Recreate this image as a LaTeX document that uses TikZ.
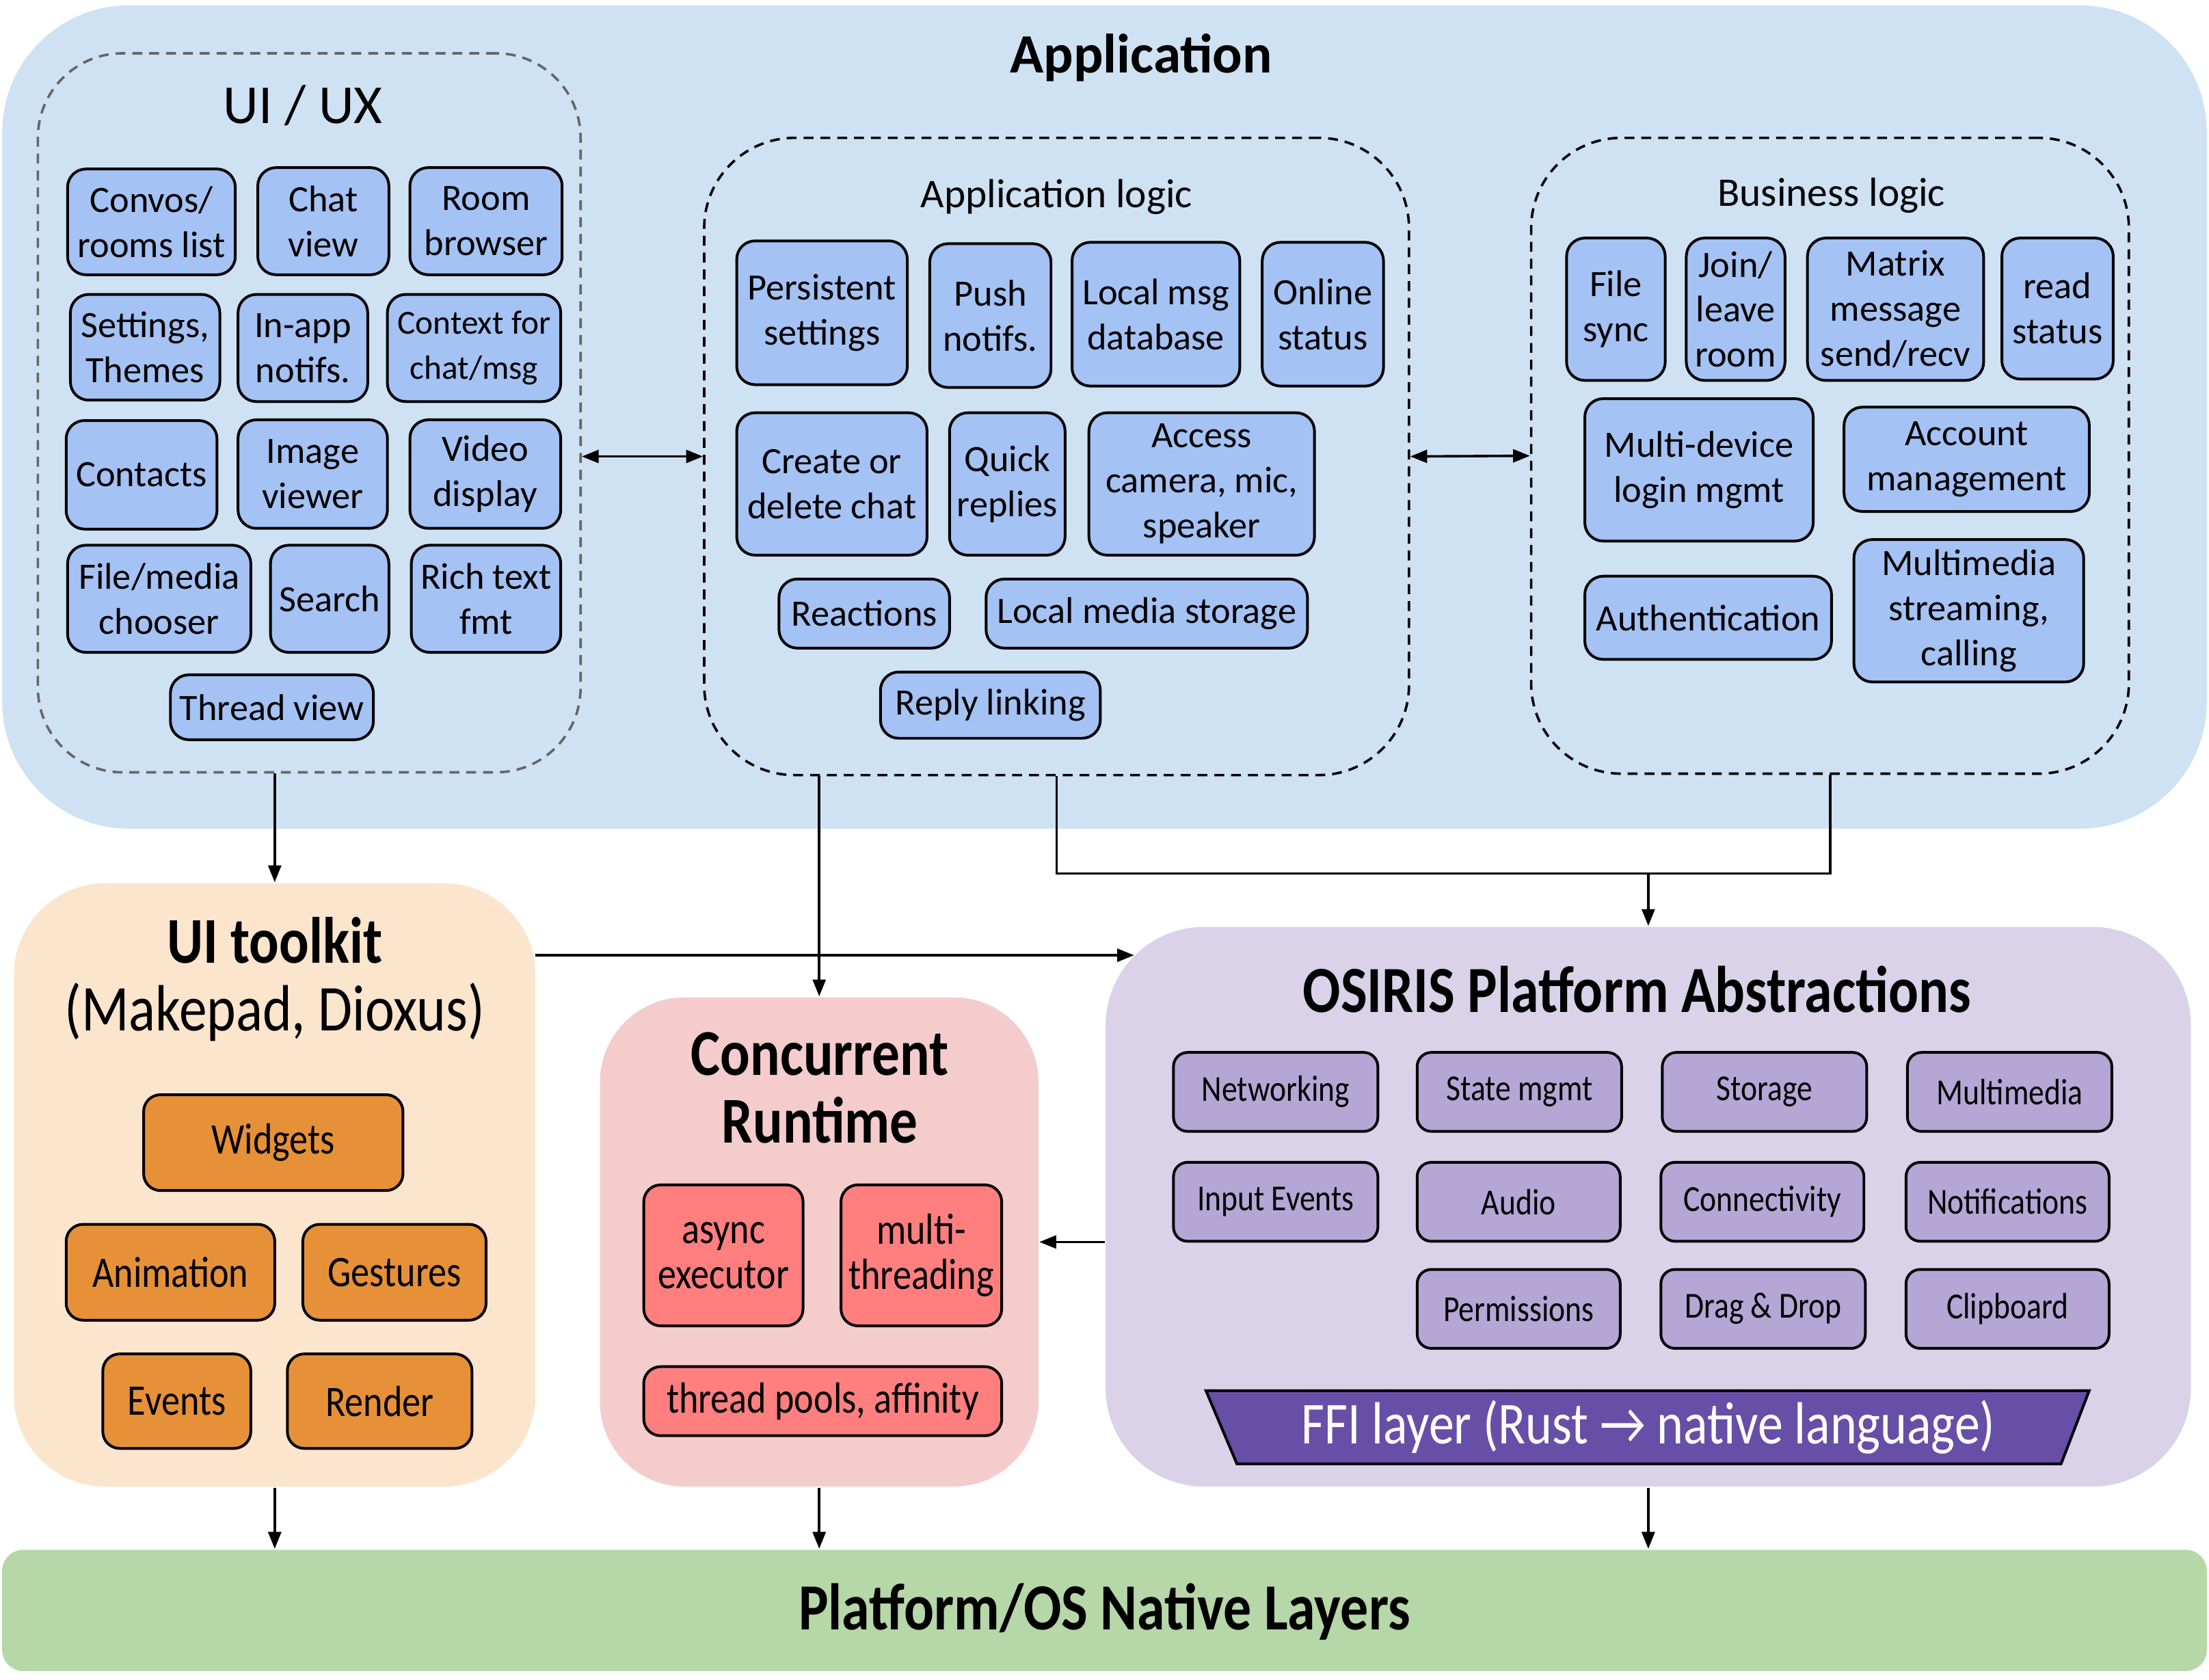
\documentclass[tikz,border=0pt]{standalone}
\usepackage{fontspec}
\setmainfont{Carlito}
\newfontfamily\narrowfont{Carlito}[FakeStretch=0.85]
\usepackage{xcolor}
\usetikzlibrary{arrows.meta}
\usetikzlibrary{calc}

\definecolor{appbg}{HTML}{CFE2F3}
\definecolor{appbox}{HTML}{A4C2F4}
\definecolor{kitbg}{HTML}{FCE5CD}
\definecolor{kitbox}{HTML}{E69138}
\definecolor{rtbg}{HTML}{F4CCCC}
\definecolor{rtbox}{HTML}{FF7F7F}
\definecolor{osbg}{HTML}{D9D2E9}
\definecolor{osbox}{HTML}{B4A7D6}
\definecolor{ffifill}{HTML}{674EA7}
\definecolor{nativebg}{HTML}{B6D7A8}
\definecolor{dashgray}{HTML}{666666}

\tikzset{
    sz/.style 2 args={minimum width=#1cm, minimum height=#2cm},
    layer/.style={draw=none, inner sep=0pt},
    group/.style={draw=black, dash pattern=on 2pt off 1.4pt, line width=0.5pt, inner sep=0pt, rounded corners=0.64cm},
    appitem/.style={draw=black, line width=0.55pt, fill=appbox, rounded corners=0.13cm, align=center, inner sep=0pt, font=\fontsize{7.5}{9.1}\selectfont},
    kititem/.style={draw=black, line width=0.55pt, fill=kitbox, rounded corners=0.12cm, align=center, inner sep=0pt, font=\narrowfont\fontsize{8.8}{9.1}\selectfont},
    rtitem/.style={kititem, fill=rtbox},
    ositem/.style={kititem, fill=osbox, rounded corners=0.1cm, font=\narrowfont\fontsize{7.4}{9}\selectfont},
    bigtitle/.style={font=\narrowfont\fontsize{13.2}{13.7}\selectfont, align=center, inner sep=0pt},
    conn/.style={line width=0.5pt},
    arr/.style={conn, -{Triangle[length=3.4pt,width=2.6pt]}},
    twoarr/.style={conn, {Triangle[length=3.4pt,width=2.6pt]}-{Triangle[length=3.4pt,width=2.6pt]}},
}

\begin{document}
\begin{tikzpicture}[x=0.01cm, y=-0.01cm]
        \useasboundingbox (0,0) rectangle (1568,1192);
        \node[layer, fill=appbg, rounded corners=0.9cm, sz={15.64}{5.84}] (app) at (784,296) {};
        \node[inner sep=0pt, font=\bfseries\fontsize{11.2}{13}\selectfont] (apptitle) at (810,41) {Application};

        \node[group, draw=dashgray, rounded corners=0.6cm, sz={3.85}{5.10}] (uiux) at (219.5,293) {};
        \node[inner sep=0pt, font=\fontsize{11.1}{13}\selectfont] (uiuxtitle) at (215,75) {UI / UX};
        \node[appitem, sz={1.19}{0.75}] (convos) at (107.5,157.5) {Convos/\\rooms list};
        \node[appitem, sz={0.93}{0.76}] (chatview) at (229.5,157) {Chat\\view};
        \node[appitem, sz={1.08}{0.76}] (roombrowser) at (345,157) {Room\\browser};
        \node[appitem, sz={1.06}{0.75}] (settings) at (103,246.5) {Settings,\\Themes};
        \node[appitem, sz={0.92}{0.76}] (inapp) at (215,247) {In-app\\notifs.};
        \node[appitem, sz={1.23}{0.76}, font=\fontsize{6.8}{9.1}\selectfont] (context) at (336.5,247) {Context for\\chat/msg};
        \node[appitem, sz={1.07}{0.77}] (contacts) at (100.5,337) {Contacts};
        \node[appitem, sz={1.06}{0.77}] (imageviewer) at (222,336.5) {Image\\viewer};
        \node[appitem, sz={1.07}{0.77}] (videodisplay) at (344.5,336.5) {Video\\display};
        \node[appitem, sz={1.30}{0.76}] (filemedia) at (113,425) {File/media\\chooser};
        \node[appitem, sz={0.84}{0.76}] (search) at (234,425) {Search};
        \node[appitem, sz={1.06}{0.76}] (richtext) at (345,425) {Rich text\\fmt};
        \node[appitem, sz={1.44}{0.46}] (threadview) at (193,502) {Thread view};

        \node[group, sz={5.00}{4.52}] (applogic) at (750,324) {};
        \node[inner sep=0pt, font=\fontsize{8.2}{10}\selectfont] (applogictitle) at (750,140) {Application logic};
        \node[appitem, sz={1.21}{1.02}] (persistent) at (583.5,222) {Persistent\\settings};
        \node[appitem, sz={0.86}{1.02}] (push) at (703,224) {Push\\notifs.};
        \node[appitem, sz={1.19}{1.02}] (localmsg) at (820.5,223) {Local msg\\database};
        \node[appitem, sz={0.86}{1.02}] (online) at (939,223) {Online\\status};
        \node[appitem, sz={1.35}{1.01}] (createchat) at (590.5,343.5) {Create or\\delete chat};
        \node[appitem, sz={0.82}{1.01}] (quick) at (715,343.5) {Quick\\replies};
        \node[appitem, sz={1.60}{1.01}] (access) at (853,343.5) {Access\\camera, mic,\\speaker};
        \node[appitem, sz={1.21}{0.49}] (reactions) at (613.5,435.5) {Reactions};
        \node[appitem, sz={2.28}{0.49}] (localmedia) at (814,435.5) {Local media storage};
        \node[appitem, sz={1.56}{0.47}] (replylink) at (703,500.5) {Reply linking};

        \node[group, sz={4.24}{4.51}] (bizlogic) at (1299,323.5) {};
        \node[inner sep=0pt, font=\fontsize{8.2}{10}\selectfont] (bizlogictitle) at (1300,139) {Business logic};
        \node[appitem, sz={0.70}{1.01}] (filesync) at (1147,219.5) {File\\sync};
        \node[appitem, sz={0.70}{1.01}] (joinleave) at (1232,219.5) {Join/\\leave\\room};
        \node[appitem, sz={1.25}{1.01}] (matrixmsg) at (1345.5,219.5) {Matrix\\message\\send/recv};
        \node[appitem, sz={0.79}{1.00}] (readstatus) at (1460.5,219) {read\\status};
        \node[appitem, sz={1.62}{1.01}] (multidevice) at (1206,333.5) {Multi-device\\login mgmt};
        \node[appitem, sz={1.74}{0.74}] (account) at (1396,326) {Account\\management};
        \node[appitem, sz={1.75}{0.59}] (auth) at (1212.5,438.5) {Authentication};
        \node[appitem, sz={1.63}{1.01}] (streaming) at (1397.5,433.5) {Multimedia\\streaming,\\calling};

        \node[layer, fill=kitbg, rounded corners=0.65cm, sz={3.70}{4.28}] (toolkit) at (195,841) {};
        \node[bigtitle] (toolkittitle) at (195,695) {\bfseries UI toolkit\\(Makepad, Dioxus)};
        \node[kititem, sz={1.84}{0.68}] (widgets) at (194,811) {Widgets};
        \node[kititem, sz={1.48}{0.68}] (animation) at (121,903) {Animation};
        \node[kititem, sz={1.30}{0.68}] (gestures) at (280,903) {Gestures};
        \node[kititem, sz={1.05}{0.67}] (events) at (125.5,994.5) {Events};
        \node[kititem, sz={1.31}{0.67}] (render) at (269.5,994.5) {Render};

        \node[layer, fill=rtbg, rounded corners=0.6cm, sz={3.11}{3.47}] (runtime) at (581.5,881.5) {};
        \node[bigtitle, font=\narrowfont\bfseries\fontsize{13.2}{13.7}\selectfont] (runtimetitle) at (582,772) {Concurrent\\Runtime};
        \node[rtitem, sz={1.13}{1.00}] (async) at (513.5,891) {async\\executor};
        \node[rtitem, sz={1.14}{1.00}] (multithread) at (654,891) {multi-\\threading};
        \node[rtitem, sz={2.54}{0.49}] (pools) at (584,994.5) {thread pools, affinity};

        \node[layer, fill=osbg, rounded corners=0.7cm, sz={7.70}{3.97}] (osiris) at (1170,856.5) {};
        \node[bigtitle, font=\narrowfont\bfseries\fontsize{13.3}{14}\selectfont] (osiristitle) at (1162,702) {OSIRIS Platform Abstractions};
        \node[ositem, sz={1.45}{0.56}] (networking) at (905.5,775) {Networking};
        \node[ositem, sz={1.45}{0.56}] (statemgmt) at (1078.5,775) {State mgmt};
        \node[ositem, sz={1.45}{0.56}] (storage) at (1252.5,775) {Storage};
        \node[ositem, sz={1.45}{0.56}] (multimedia) at (1426.5,775) {Multimedia};
        \node[ositem, sz={1.45}{0.56}] (inputevents) at (905.5,853) {Input Events};
        \node[ositem, sz={1.44}{0.56}] (audio) at (1078,853) {Audio};
        \node[ositem, sz={1.44}{0.56}] (connectivity) at (1251,853) {Connectivity};
        \node[ositem, sz={1.44}{0.56}] (notifications) at (1425,853) {Notifications};
        \node[ositem, sz={1.44}{0.56}] (permissions) at (1078,929) {Permissions};
        \node[ositem, sz={1.45}{0.56}] (dragdrop) at (1251.5,929) {Drag \& Drop};
        \node[ositem, sz={1.44}{0.56}] (clipboard) at (1425,929) {Clipboard};
        \draw[line width=0.55pt, fill=ffifill] (856,987) -- (1483,987) -- (1463,1039) -- (878,1039) -- cycle;
        \node[inner sep=0pt, text=white, font=\narrowfont\fontsize{12}{14}\selectfont] (ffi) at (1170,1013) {FFI layer (Rust → native language)};

        \node[layer, fill=nativebg, rounded corners=0.15cm, sz={15.64}{0.86}] (platform) at (784,1143) {};
        \node[bigtitle, font=\narrowfont\bfseries\fontsize{13.3}{14}\selectfont] (platformtitle) at (784,1144) {Platform/OS Native Layers};

        \coordinate (busrow) at (1170,620);
        \coordinate (kitout) at (380,678);
        \coordinate (osin) at (805,678);
        \draw[twoarr] (uiux.east |- applogic.west) -- (applogic.west);
        \draw[twoarr] (applogic.east) -- (bizlogic.west);
        \draw[arr] (uiux.south -| toolkit.north) -- (toolkit.north);
        \draw[arr] (applogic.south -| runtime.north) -- (runtime.north);
        \draw[conn] (applogic.south) |- (busrow) -| (bizlogic.south);
        \draw[arr] (busrow) -- (osiris.north);
        \draw[arr] (kitout) -- (osin);
        \draw[arr] (osiris.west |- runtime.east) -- (runtime.east);
        \draw[arr] (toolkit.south) -- (toolkit.south |- platform.north);
        \draw[arr] (runtime.south) -- (runtime.south |- platform.north);
        \draw[arr] (osiris.south) -- (osiris.south |- platform.north);
    \end{tikzpicture}
\end{document}
